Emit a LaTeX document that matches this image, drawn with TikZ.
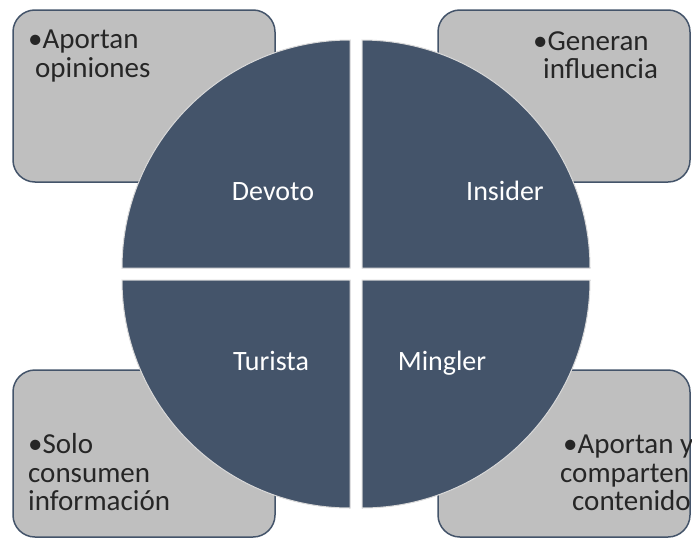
\documentclass[tikz,border=0pt]{standalone}
\usepackage{fontspec}
\setmainfont{Carlito}
\definecolor{slate}{HTML}{44546A}
\definecolor{boxgray}{HTML}{BFBFBF}
\begin{document}
\begin{tikzpicture}[x=1pt,y=-1pt,
  infobox/.style={draw=slate, fill=boxgray, line width=1.5pt, rounded corners=22pt, inner sep=0pt},
  quad/.style={fill=slate, draw=gray!30, line width=1pt},
  qlabel/.style={text=white, font=\fontsize{28}{30}\selectfont, inner sep=0pt, anchor=base},
  btxt/.style={font=\fontsize{29}{30}\selectfont, inner sep=0pt, text=black!85, anchor=base west}]
\useasboundingbox (0,0) rectangle (692,538);
% boxes
\node[infobox, minimum width=262pt, minimum height=172pt] (b1) at (144,96) {};
\node[infobox, minimum width=252pt, minimum height=172pt] (b2) at (564,96) {};
\node[infobox, minimum width=262pt, minimum height=167pt] (b3) at (144,453.5) {};
\node[infobox, minimum width=252pt, minimum height=167pt] (b4) at (564,453.5) {};
% quadrants
\path[quad] (350,268) -- (122,268) arc[start angle=180, end angle=270, radius=228] -- cycle;
\path[quad] (362,268) -- (362,40) arc[start angle=270, end angle=360, radius=228] -- cycle;
\path[quad] (362,280) -- (590,280) arc[start angle=0, end angle=90, radius=228] -- cycle;
\path[quad] (350,280) -- (350,508) arc[start angle=90, end angle=180, radius=228] -- cycle;
% quadrant labels
\node[qlabel] (q1) at (273,200) {Devoto};
\node[qlabel] (q2) at (505,200) {Insider};
\node[qlabel] (q3) at (271,370) {Turista};
\node[qlabel] (q4) at (442,370) {Mingler};
% box texts
\node[btxt] (t1a) at (28,48) {•Aportan};
\node[btxt] (t1b) at (35,77) {opiniones};
\node[btxt] (t2a) at (533,50) {•Generan};
\node[btxt] (t2b) at (543,78) {influencia};
\node[btxt] (t3a) at (28,453) {•Solo};
\node[btxt] (t3b) at (28,482) {consumen};
\node[btxt] (t3c) at (28,510) {información};
\node[btxt] (t4a) at (563,453) {•Aportan y};
\node[btxt] (t4b) at (560,482) {comparten};
\node[btxt] (t4c) at (572,510) {contenido};
\end{tikzpicture}
\end{document}
